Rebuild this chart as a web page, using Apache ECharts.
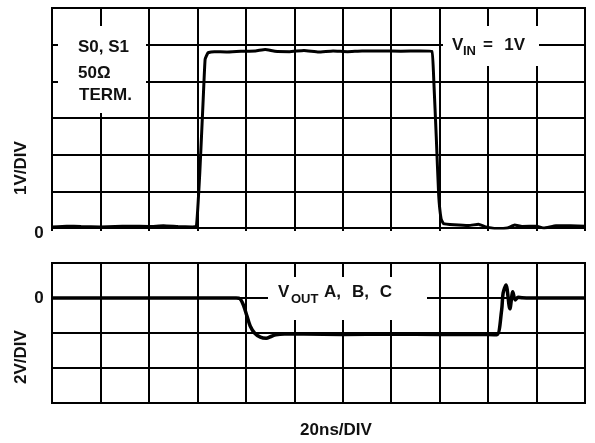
<!DOCTYPE html>
<html>
<head>
<meta charset="utf-8">
<script src="https://cdn.jsdelivr.net/npm/echarts@6/dist/echarts.min.js"></script>
<style>
html,body{margin:0;padding:0;background:#fff;}
#c{width:595px;height:443px;}
</style>
</head>
<body>
<div id="c"></div>
<script>
// ---- data (in scope divisions) ----
const xDivisions = 11;
const topRange = [0, 6];
const bottomRange = [-3, 1];

// V_IN trace (top panel), [time div, volts div]
const vinX = [0,0.3,0.6,1.0,1.3,1.6,2.0,2.3,2.6,2.9,2.98,3.05,3.12,3.16,3.22,3.35,3.6,3.9,4.2,4.4,4.6,4.9,5.2,5.5,5.8,6.1,6.4,6.8,7.2,7.6,7.84,7.88,7.93,7.98,8.03,8.08,8.3,8.6,8.8,8.95,9.2,9.4,9.55,9.7,10.0,10.15,10.4,10.7,11.0];
const vinY = [0.03,0.05,0.04,0.03,0.04,0.05,0.04,0.06,0.04,0.03,0.04,1.5,3.5,4.6,4.78,4.81,4.8,4.82,4.83,4.87,4.82,4.81,4.84,4.8,4.83,4.81,4.83,4.83,4.82,4.83,4.82,4.0,2.5,0.9,0.25,0.12,0.09,0.07,0.1,0.03,-0.02,0.0,0.08,0.04,0.05,0.0,0.06,0.06,0.05];

// V_OUT trace (bottom panel)
const voutX = [0,1,2,3,3.8,3.88,3.95,4.02,4.09,4.18,4.3,4.42,4.52,4.62,4.8,5.2,6,7,8,9,9.18,9.28,9.31,9.37,9.45,9.51,9.56,9.62,9.7,10,11];
const voutY = [0,0,0,0,0,-0.02,-0.2,-0.5,-0.8,-1.0,-1.12,-1.15,-1.1,-1.05,-1.03,-1.03,-1.04,-1.03,-1.04,-1.04,-1.05,-0.34,0.14,0.37,-0.31,0.18,-0.06,0.02,0.01,0.0,0.0];

// texts
const boxTextLines = ['S0, S1', '50\u03A9', 'TERM.'];
const vinLabel = ['V', 'IN', '=', '1V'];
const voutLabel = ['V', 'OUT', 'A,', 'B,', 'C'];
const zeroLabel = '0';
const topYName = '1V/DIV';
const bottomYName = '2V/DIV';
const xName = '20ns/DIV';

const FONT = '"Liberation Sans", Arial, sans-serif';
const vinData = vinX.map((x, i) => [x, vinY[i]]);
const voutData = voutX.map((x, i) => [x, voutY[i]]);

const chart = echarts.init(document.getElementById('c'), null, {renderer: 'canvas'});

const gridLine = {show: true, lineStyle: {color: '#000', width: 2}};
function txt(text, x, y, opts, rot) {
  const el = {
    type: 'text', x: x, y: y, z: 120,
    style: Object.assign({text: text, fontSize: 17, fontWeight: 'bold', fontFamily: FONT,
      fill: '#111', align: 'left', verticalAlign: 'middle'}, opts || {})
  };
  if (rot) el.rotation = rot;
  return el;
}
function box(x, y, w, h) {
  return {type: 'rect', z: 110, shape: {x: x, y: y, width: w, height: h}, style: {fill: '#fff'}};
}

chart.setOption({
  animation: false,
  backgroundColor: '#fff',
  grid: [
    {left: 52, right: 10, top: 8, height: 220, show: true, borderColor: '#000', borderWidth: 2},
    {left: 52, right: 10, top: 263, height: 140, show: true, borderColor: '#000', borderWidth: 2}
  ],
  xAxis: [
    {type: 'value', gridIndex: 0, min: 0, max: xDivisions, interval: 1,
     axisLine: {show: false}, axisLabel: {show: false},
     axisTick: {show: true, inside: false, length: 3, lineStyle: {color: '#000', width: 2}},
     splitLine: gridLine},
    {type: 'value', gridIndex: 1, min: 0, max: xDivisions, interval: 1,
     axisLine: {show: false}, axisLabel: {show: false}, axisTick: {show: false},
     splitLine: gridLine}
  ],
  yAxis: [
    {type: 'value', gridIndex: 0, min: topRange[0], max: topRange[1], interval: 1,
     axisLine: {show: false}, axisLabel: {show: false}, axisTick: {show: false}, splitLine: gridLine},
    {type: 'value', gridIndex: 1, min: bottomRange[0], max: bottomRange[1], interval: 1,
     axisLine: {show: false}, axisLabel: {show: false}, axisTick: {show: false}, splitLine: gridLine}
  ],
  series: [
    {type: 'line', xAxisIndex: 0, yAxisIndex: 0, data: vinData, showSymbol: false, smooth: 0.1,
     lineStyle: {color: '#000', width: 3}, z: 5},
    {type: 'line', xAxisIndex: 1, yAxisIndex: 1, data: voutData, showSymbol: false, smooth: 0.3,
     lineStyle: {color: '#000', width: 3.5}, z: 5}
  ],
  graphic: [
    box(58, 26, 88, 87),
    box(443, 26, 96, 40),
    box(268, 277, 159, 43),
    txt(boxTextLines[0], 78, 47),
    txt(boxTextLines[1], 78, 73),
    txt(boxTextLines[2], 79, 95),
    txt(vinLabel[0], 452, 45),
    txt(vinLabel[1], 463, 51, {fontSize: 13}),
    txt(vinLabel[2], 483, 45),
    txt(vinLabel[3], 525, 45, {align: 'right'}),
    txt(voutLabel[0], 278, 292),
    txt(voutLabel[1], 291, 299, {fontSize: 13}),
    txt(voutLabel[2], 324, 292),
    txt(voutLabel[3], 352, 292),
    txt(voutLabel[4], 392, 292, {align: 'right'}),
    txt(zeroLabel, 39, 233, {align: 'center'}),
    txt(zeroLabel, 39, 298, {align: 'center'}),
    txt(topYName, 21, 168, {align: 'center'}, Math.PI / 2),
    txt(bottomYName, 21, 357, {align: 'center'}, Math.PI / 2),
    txt(xName, 336, 430, {align: 'center'})
  ]
});
</script>
</body>
</html>
